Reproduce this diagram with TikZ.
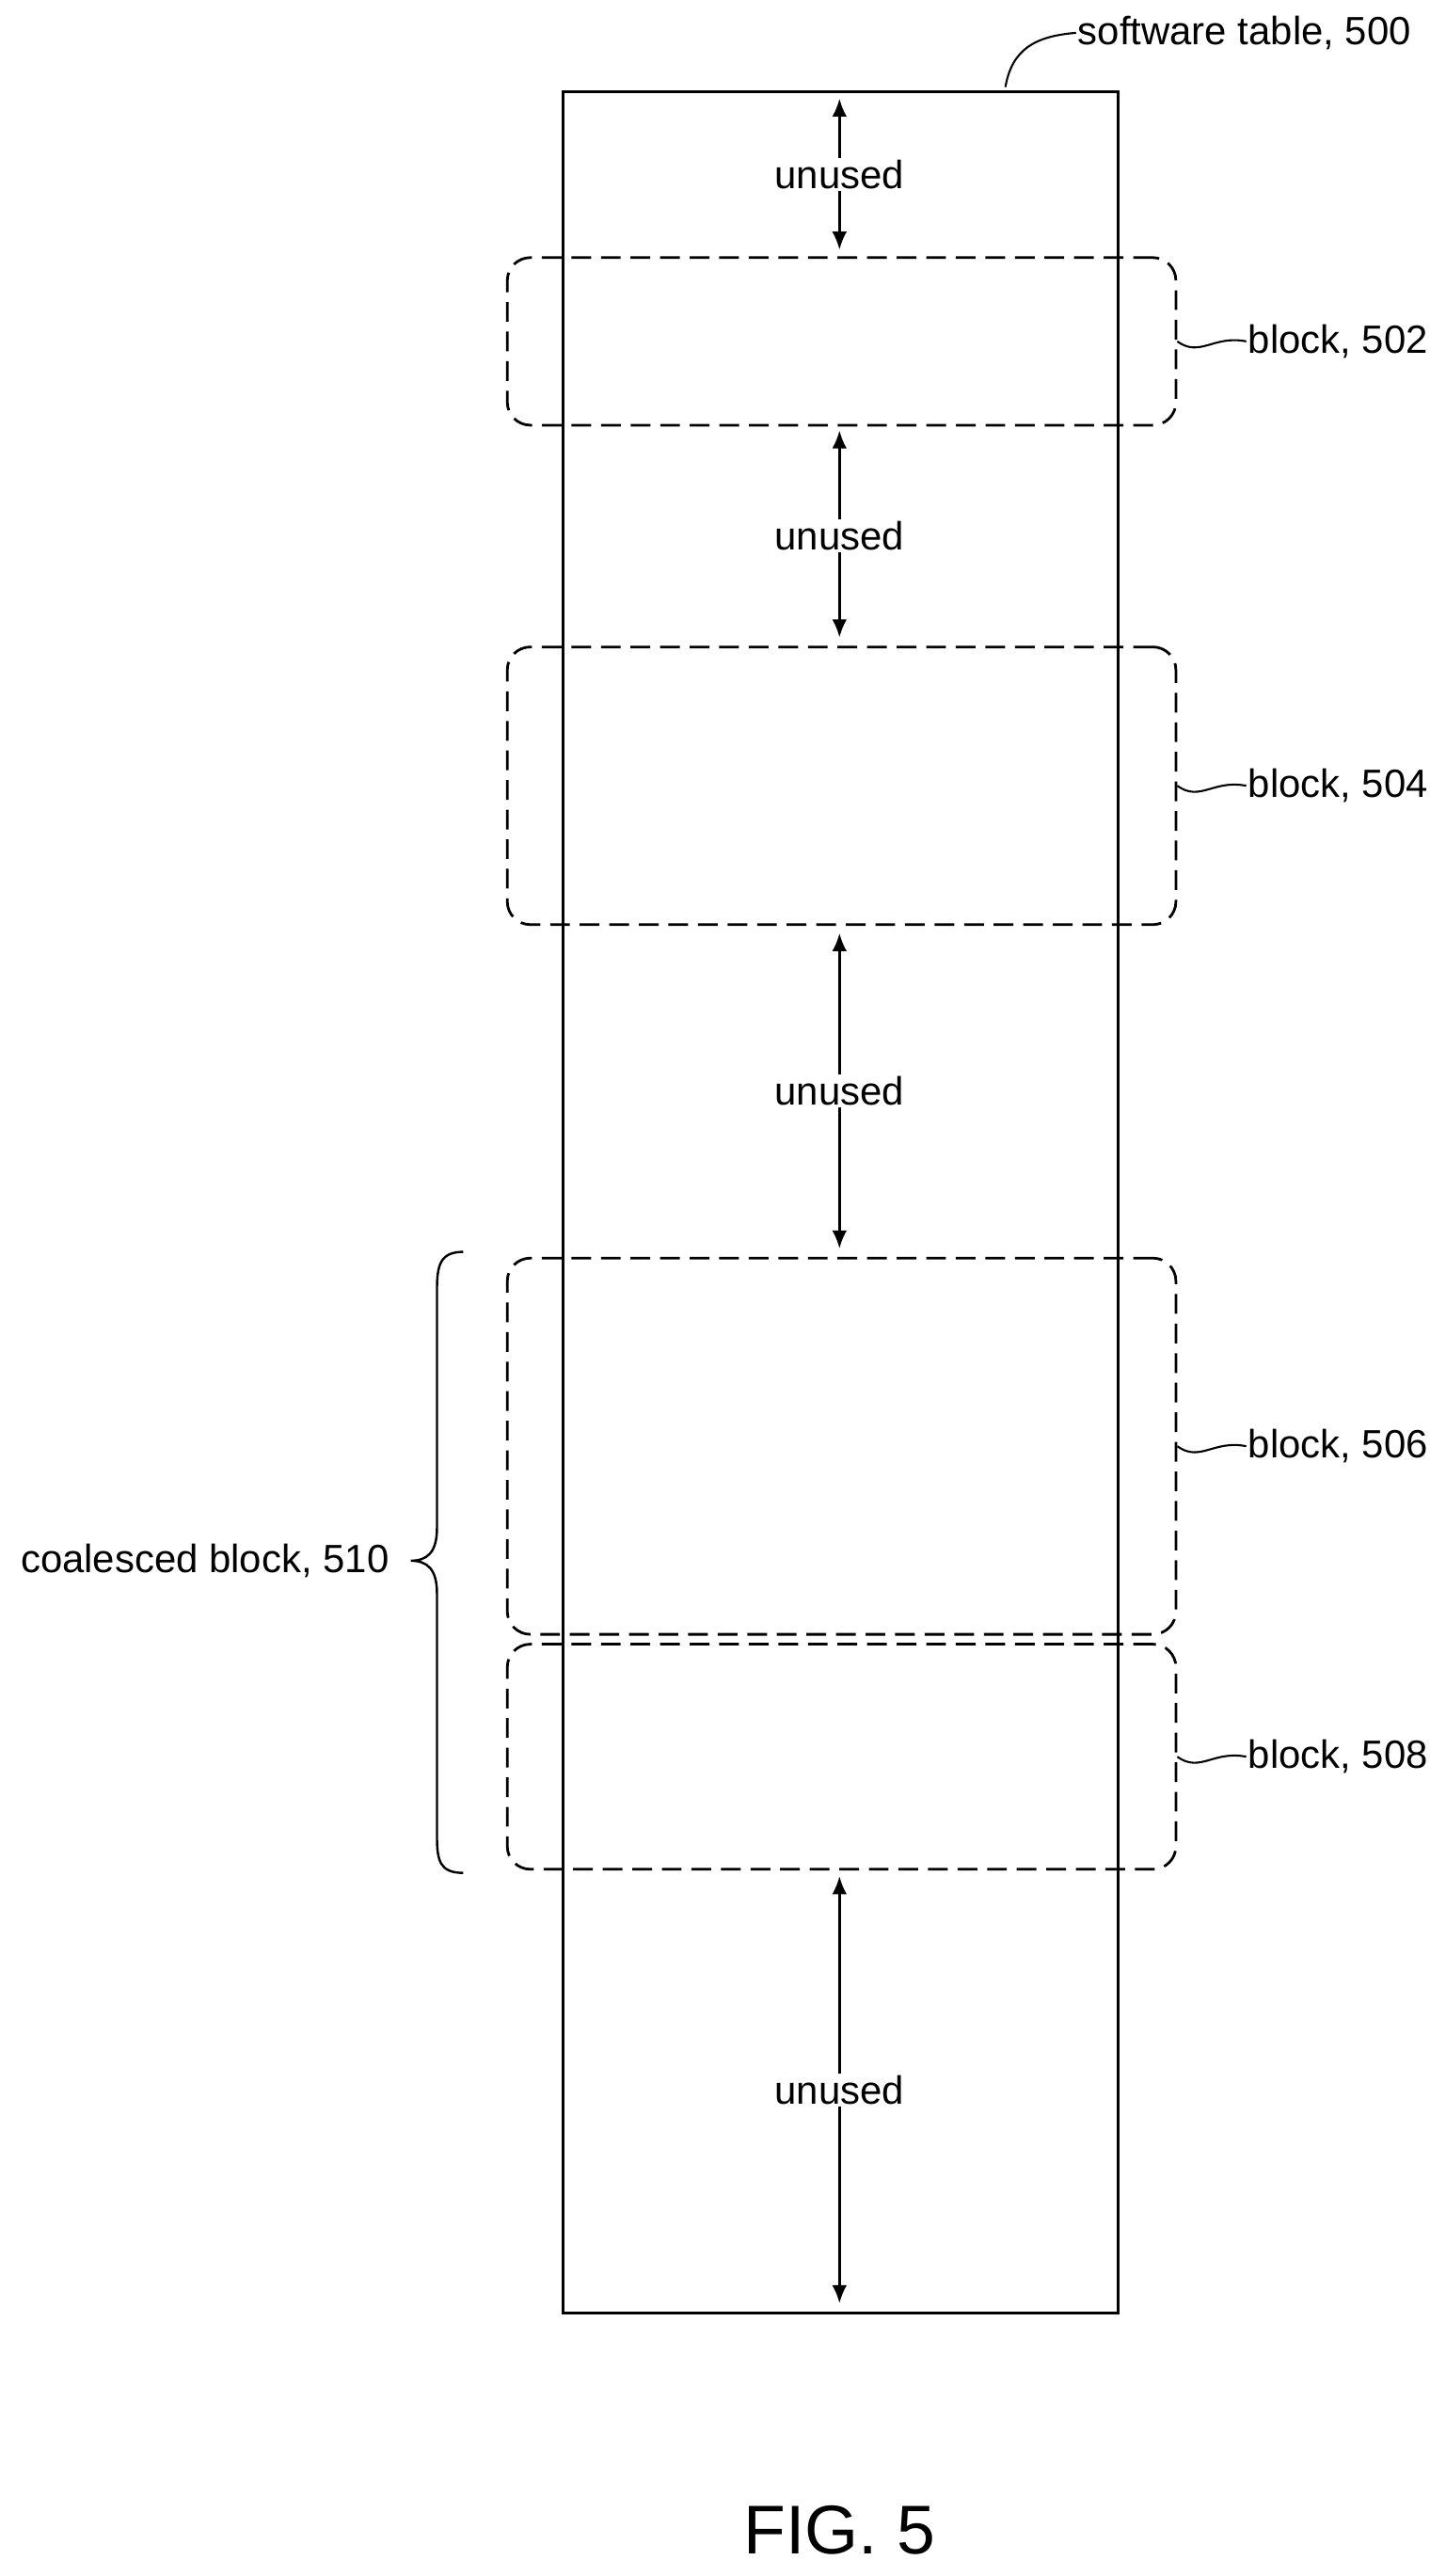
\documentclass[tikz,border=0pt]{standalone}
\usepackage{fontspec}
\setmainfont{Liberation Sans}
\usetikzlibrary{arrows.meta}
\begin{document}
\begin{tikzpicture}[x=1pt,y=-1pt,
  lbl/.style={font=\fontsize{24}{28}\selectfont, inner sep=1pt},
  blk/.style={draw, dashed, dash pattern=on 12pt off 6pt, rounded corners=14pt, line width=1.6pt},
  arr/.style={line width=1.5pt, -{Latex[length=11pt,width=9pt]}},
  lead/.style={line width=1.2pt}]
\useasboundingbox (0,0) rectangle (880,1568);
\node[draw, line width=1.6pt, minimum width=338pt, minimum height=1352pt, anchor=north west, inner sep=0] (tab) at (342,55) {};
\node[lbl, anchor=west] (tl) at (655,20) {software table, 500};
\draw[lead] (612,53) .. controls (616,30) and (630,22) .. (tl.west);
\node[blk, minimum width=407pt, minimum height=102pt, anchor=north west] (b502) at (308,156) {};
\node[blk, minimum width=407pt, minimum height=169pt, anchor=north west] (b504) at (308,393) {};
\node[blk, minimum width=407pt, minimum height=229pt, anchor=north west] (b506) at (308,765) {};
\node[blk, minimum width=407pt, minimum height=137pt, anchor=north west] (b508) at (308,1000) {};
\foreach \b/\t in {b502/502,b504/504,b506/506,b508/508}{
  \node[lbl, anchor=west] (l\t) at ([xshift=42pt]\b.east) {block, \t};
  \draw[lead] (\b.east) .. controls ([xshift=14pt,yshift=-10pt]\b.east) and ([xshift=22pt,yshift=4pt]\b.east) .. (l\t.west);
}
\node[lbl] (u1) at (511,106) {unused};
\node[lbl] (u2) at (511,326) {unused};
\node[lbl] (u3) at (511,664) {unused};
\node[lbl] (u4) at (511,1272) {unused};
\coordinate (a1t) at (511,60); \coordinate (a1b) at (511,152);
\coordinate (a2t) at (511,262); \coordinate (a2b) at (511,388);
\coordinate (a3t) at (511,568); \coordinate (a3b) at (511,760);
\coordinate (a4t) at (511,1142); \coordinate (a4b) at (511,1402);
\foreach \i in {1,2,3,4}{
  \draw[arr] (u\i.north) -- (a\i t);
  \draw[arr] (u\i.south) -- (a\i b);
}
\draw[line width=1.4pt] (282,762) .. controls (268,762) and (266,770) .. (266,785)
  -- (266,930) .. controls (266,945) and (260,950) .. (250,950)
  .. controls (260,950) and (266,955) .. (266,970)
  -- (266,1118) .. controls (266,1133) and (268,1140) .. (282,1140);
\node[lbl, anchor=east] (cb) at (238,950) {coalesced block, 510};
\node[font=\fontsize{42}{46}\selectfont] (fig) at (511,1540) {FIG. 5};
\end{tikzpicture}
\end{document}
